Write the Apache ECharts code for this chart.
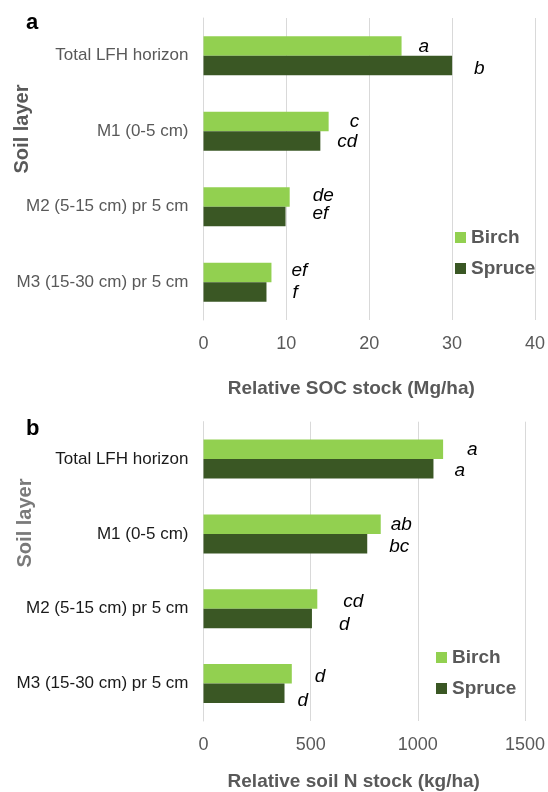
<!DOCTYPE html>
<html>
<head>
<meta charset="utf-8">
<script src="https://cdn.jsdelivr.net/npm/echarts@6/dist/echarts.min.js"></script>
<style>
  html, body { margin: 0; padding: 0; background: #ffffff; }
  #chart { width: 548px; height: 792px; }
</style>
</head>
<body>
<div id="chart"></div>
<script>
// Soil layers, top to bottom
const layers = ['Total LFH horizon', 'M1 (0-5 cm)', 'M2 (5-15 cm) pr 5 cm', 'M3 (15-30 cm) pr 5 cm'];

// Panel a: relative SOC stock (Mg/ha)
const socBirch = [23.9, 15.1, 10.4, 8.2];
const socSpruce = [30.0, 14.1, 9.9, 7.6];
const socBirchLetters = ['a', 'c', 'de', 'ef'];
const socSpruceLetters = ['b', 'cd', 'ef', 'f'];
const socTicks = [0, 10, 20, 30, 40];

// Panel b: relative soil N stock (kg/ha)
const nBirch = [1118, 827, 531, 412];
const nSpruce = [1073, 764, 506, 378];
const nBirchLetters = ['a', 'ab', 'cd', 'd'];
const nSpruceLetters = ['a', 'bc', 'd', 'd'];
const nTicks = [0, 500, 1000, 1500];

// Hand placement of the significance letters beside the bar ends [dx, dy]
const socBirchNudge = [[17, 1], [21, 0], [23, -1], [20, -2]];
const socSpruceNudge = [[22, 3], [17, 1], [27, -3], [26, 1]];
const nBirchNudge = [[24, 0], [10, 1], [26, 3], [23, 3]];
const nSpruceNudge = [[21, 2], [22, 3], [27, 6], [13, 7]];

const FONT = '"Liberation Sans", Arial, Helvetica, sans-serif';
const BIRCH = '#92D050';
const SPRUCE = '#3A5724';
const GRID_LINE = '#D9D9D9';
const TEXT_GREY = '#595959';

function lettered(values, letters, nudge) {
  return values.map((v, i) => ({
    value: v,
    label: { formatter: letters[i], offset: nudge[i] }
  }));
}

const letterLabel = {
  show: true,
  position: 'right',
  distance: 0,
  color: '#000000',
  fontFamily: FONT,
  fontStyle: 'italic',
  fontSize: 19
};

function valueAxis(gridIndex, ticks, name, namePadding, nameGap) {
  return {
    type: 'value',
    gridIndex: gridIndex,
    min: ticks[0],
    max: ticks[ticks.length - 1],
    interval: ticks[1] - ticks[0],
    axisLine: { show: false },
    axisTick: { show: false },
    splitLine: { show: true, lineStyle: { color: GRID_LINE, width: 1 } },
    axisLabel: {
      color: TEXT_GREY, fontFamily: FONT, fontSize: 18, margin: 15,
      formatter: (v) => String(v)
    },
    name: name,
    nameLocation: 'middle',
    nameGap: nameGap,
    nameTextStyle: {
      color: TEXT_GREY, fontFamily: FONT, fontSize: 19, fontWeight: 'bold',
      padding: namePadding
    }
  };
}

function layerAxis(gridIndex, labelColor) {
  return {
    type: 'category',
    gridIndex: gridIndex,
    data: layers,
    inverse: true,
    axisLine: { show: true, lineStyle: { color: GRID_LINE, width: 1 } },
    axisTick: { show: false },
    axisLabel: { color: labelColor, fontFamily: FONT, fontSize: 17, margin: 15 }
  };
}

function barSeries(name, color, axisIndex, values, letters, nudge) {
  return {
    name: name,
    type: 'bar',
    xAxisIndex: axisIndex,
    yAxisIndex: axisIndex,
    barWidth: 19.5,
    barGap: '0%',
    itemStyle: { color: color },
    label: letterLabel,
    data: lettered(values, letters, nudge),
    animation: false
  };
}

function legendAt(left, top) {
  return {
    data: ['Birch', 'Spruce'],
    orient: 'vertical',
    left: left,
    top: top,
    itemWidth: 11,
    itemHeight: 11,
    itemGap: 12,
    icon: 'rect',
    selectedMode: false,
    textStyle: { color: TEXT_GREY, fontFamily: FONT, fontSize: 19, fontWeight: 'bold' }
  };
}

const chart = echarts.init(document.getElementById('chart'), null, { renderer: 'canvas' });

chart.setOption({
  animation: false,
  backgroundColor: '#ffffff',
  grid: [
    { left: 203.5, right: 11.5, top: 18, height: 302 },
    { left: 203.5, right: 22, top: 421.7, height: 300.5 }
  ],
  xAxis: [
    valueAxis(0, socTicks, 'Relative SOC stock (Mg/ha)', [0, 36, 0, 0], 59),
    valueAxis(1, nTicks, 'Relative soil N stock (kg/ha)', [0, 21, 0, 0], 51)
  ],
  yAxis: [
    layerAxis(0, TEXT_GREY),
    layerAxis(1, '#1a1a1a')
  ],
  legend: [legendAt(450, 223), legendAt(431, 643)],
  series: [
    barSeries('Birch', BIRCH, 0, socBirch, socBirchLetters, socBirchNudge),
    barSeries('Spruce', SPRUCE, 0, socSpruce, socSpruceLetters, socSpruceNudge),
    barSeries('Birch', BIRCH, 1, nBirch, nBirchLetters, nBirchNudge),
    barSeries('Spruce', SPRUCE, 1, nSpruce, nSpruceLetters, nSpruceNudge)
  ],
  graphic: [
    { type: 'text', left: 26, top: 12, style: { text: 'a', font: 'bold 22px ' + FONT, fill: '#000000' } },
    { type: 'text', left: 26, top: 418, style: { text: 'b', font: 'bold 22px ' + FONT, fill: '#000000' } },
    {
      type: 'text', x: 22, y: 129, rotation: Math.PI / 2,
      style: { text: 'Soil layer', font: 'bold 20px ' + FONT, fill: TEXT_GREY, align: 'center', verticalAlign: 'middle' }
    },
    {
      type: 'text', x: 25, y: 523, rotation: Math.PI / 2,
      style: { text: 'Soil layer', font: 'bold 20px ' + FONT, fill: '#7a7a7a', align: 'center', verticalAlign: 'middle' }
    }
  ]
});
</script>
</body>
</html>
